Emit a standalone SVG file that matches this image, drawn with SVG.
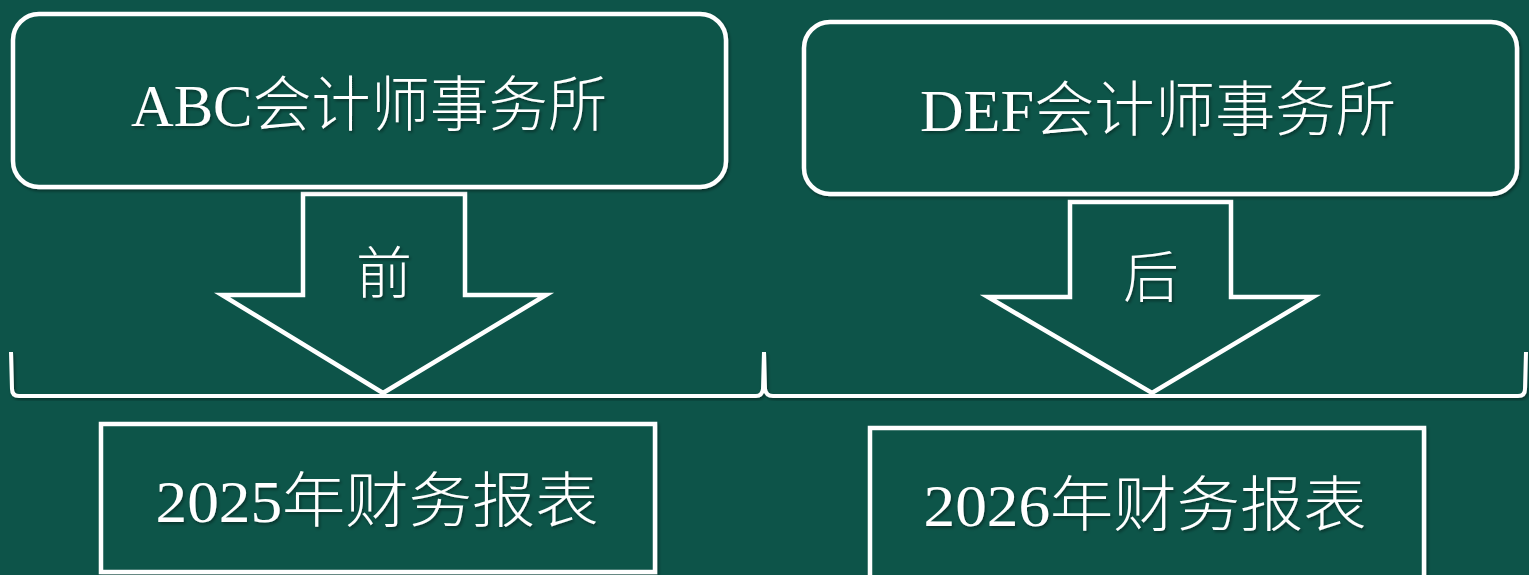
<svg xmlns="http://www.w3.org/2000/svg" width="1529" height="575" viewBox="0 0 1529 575">
<defs>
<filter id="sh" x="-5%" y="-5%" width="110%" height="115%">
<feDropShadow dx="1.5" dy="2" stdDeviation="1.5" flood-color="#000" flood-opacity="0.4"/>
</filter>
<style>
.box{fill:#0d5449;stroke:#ffffff;stroke-width:4.5;filter:url(#sh)}
.arrow{fill:#0d5449;stroke:#ffffff;stroke-width:4.5;stroke-linejoin:miter}
.brace{fill:none;stroke:#ffffff;stroke-width:4;filter:url(#sh)}
.t{fill:#ffffff;font-family:"Liberation Serif","Noto Sans CJK SC",serif;font-weight:300;text-anchor:middle;filter:url(#sh)}
</style>
</defs>
<rect width="1529" height="575" fill="#0d5449"/>
<g id="connectors">
<path class="brace" d="M11,352 L12,389 Q12,396 19,396 L756,396 Q762,396 763,389 L764,352 L765,389 Q766,396 773,396 L1518,396 Q1525,396 1525,389 L1526,352"/>
</g>
<g id="arrow-before">
<path class="arrow" d="M303,194 L465,194 L465,295 L546,295 L383,393 L222,295 L303,295 Z"/>
<text class="t" x="384" y="293" font-size="56">前</text>
</g>
<g id="arrow-after">
<path class="arrow" d="M1070,202 L1231,202 L1231,297 L1313,297 L1152,393 L988,297 L1070,297 Z"/>
<text class="t" x="1151" y="297" font-size="56">后</text>
</g>
<g id="abc">
<rect class="box" x="13" y="14" width="713" height="173" rx="26"/>
<text class="t" x="369" y="126" font-size="60" textLength="476" lengthAdjust="spacingAndGlyphs">ABC会计师事务所</text>
</g>
<g id="def">
<rect class="box" x="804" y="22" width="713" height="172" rx="26"/>
<text class="t" x="1158" y="131" font-size="60" textLength="476" lengthAdjust="spacingAndGlyphs">DEF会计师事务所</text>
</g>
<g id="fs2025">
<rect class="box" x="101" y="424" width="554" height="148"/>
<text class="t" x="377" y="522" font-size="60" textLength="443" lengthAdjust="spacingAndGlyphs">2025年财务报表</text>
</g>
<g id="fs2026">
<rect class="box" x="870" y="428" width="554" height="150"/>
<text class="t" x="1145" y="526" font-size="60" textLength="443" lengthAdjust="spacingAndGlyphs">2026年财务报表</text>
</g>
</svg>
